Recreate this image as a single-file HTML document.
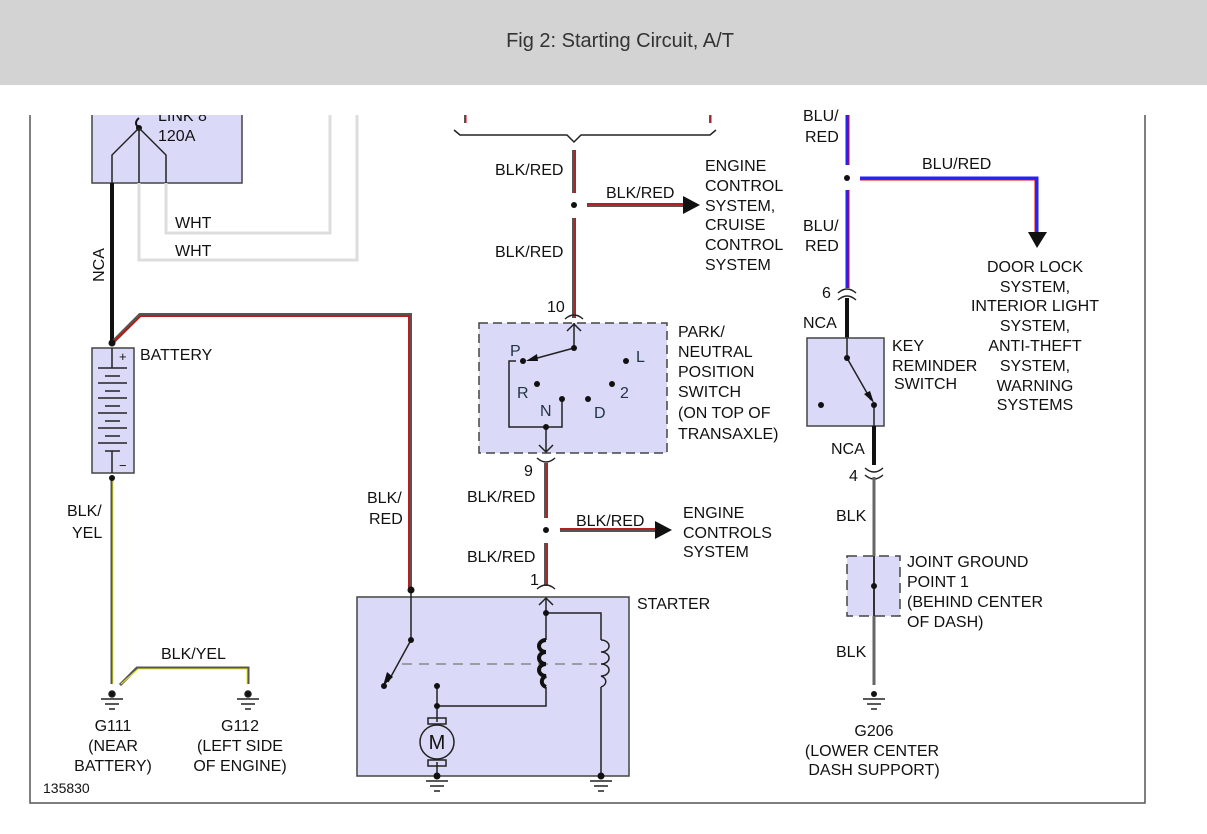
<!DOCTYPE html>
<html><head><style>
html,body{margin:0;padding:0;background:#fff;}
svg{display:block;}
text{font-family:"Liberation Sans",Arial,sans-serif;font-size:16px;fill:#111;}
</style></head><body>
<svg width="1207" height="834" viewBox="0 0 1207 834" xmlns="http://www.w3.org/2000/svg">
<rect x="0" y="0" width="1207" height="85" fill="#d3d3d3"/>
<text x="620" y="47" text-anchor="middle" style="font-size:20px;fill:#333">Fig 2: Starting Circuit, A/T</text>
<!-- frame -->
<path d="M30 115 V803 H1145 V115" fill="none" stroke="#555" stroke-width="1.5"/>
<!-- fuse box -->
<rect x="92" y="108" width="150" height="75" fill="#dadaf8" stroke="#444" stroke-width="1.5"/>
<path d="M139 118 q-6 5 0 10" fill="none" stroke="#111" stroke-width="2"/>
<circle cx="139" cy="128" r="3" fill="#111"/>
<path d="M139 128 L112 155 V183 M139 128 V183 M139 128 L166 155 V183" fill="none" stroke="#222" stroke-width="1.5"/>
<text x="158" y="121">LINK 8</text>
<text x="158" y="141">120A</text>
<rect x="90" y="85" width="160" height="30" fill="#fff"/>
<!-- WHT -->
<path d="M139 183 V260 H357 V115 M166 183 V233 H330 V115" fill="none" stroke="#ddd" stroke-width="3"/>
<text x="175" y="228">WHT</text><text x="175" y="256">WHT</text>
<!-- NCA -->
<path d="M112 183 V343" stroke="#111" stroke-width="4"/>
<text x="104" y="265" transform="rotate(-90 104 265)" text-anchor="middle">NCA</text>
<!-- red wire -->
<path d="M112 343 L140 315 H410 V588" fill="none" stroke="#555" stroke-width="4"/>
<path d="M113 342 L141 316 H409 V588" fill="none" stroke="#e00" stroke-width="1.3"/>
<circle cx="112" cy="343" r="3.5" fill="#111"/>
<text x="367" y="503">BLK/</text><text x="369" y="524">RED</text>
<!-- battery -->
<rect x="92" y="348" width="42" height="125" fill="#dadaf8" stroke="#444" stroke-width="1.5"/>
<path d="M112 348 V368 M98 368 H127 M105 376 H120 M98 383 H127 M105 391 H120 M98 398 H127 M105 406 H120 M98 413 H127 M105 421 H120 M98 428 H127 M105 436 H120 M98 443 H127 M105 451 H120 M112 451 V473" stroke="#222" stroke-width="1.5"/>
<text x="119" y="361" style="font-size:13px">+</text><text x="119" y="470" style="font-size:13px">−</text>
<text x="140" y="360">BATTERY</text>
<!-- BLK/YEL -->
<path d="M112 478 V684 M120 685 L137 668 H248 V684" fill="none" stroke="#555" stroke-width="3"/>
<path d="M113 478 V684 M121 684 L138 669 H247 V684" fill="none" stroke="#ee0" stroke-width="1"/>
<circle cx="112" cy="478" r="3" fill="#111"/>
<text x="67" y="516">BLK/</text><text x="72" y="538">YEL</text>
<text x="161" y="659">BLK/YEL</text>
<g stroke="#222" stroke-width="1.5">
<circle cx="112" cy="694" r="3" fill="#111"/><path d="M101 699 H123 M105 704 H119 M109 709 H115"/>
<circle cx="248" cy="694" r="3" fill="#111"/><path d="M237 699 H259 M241 704 H255 M245 709 H251"/>
</g>
<text x="113" y="731" text-anchor="middle">G111</text><text x="113" y="751" text-anchor="middle">(NEAR</text><text x="113" y="771" text-anchor="middle">BATTERY)</text>
<text x="240" y="731" text-anchor="middle">G112</text><text x="240" y="751" text-anchor="middle">(LEFT SIDE</text><text x="240" y="771" text-anchor="middle">OF ENGINE)</text>
<text x="43" y="793" style="font-size:14px">135830</text>
<!-- middle top -->
<path d="M465 115 V123 M710 115 V123" stroke="#555" stroke-width="2"/>
<path d="M466 115 V123 M711 115 V123" stroke="#e00" stroke-width="1"/>
<path d="M454 130 L460 135 H567 L574 142 L581 135 H710 L716 130" fill="none" stroke="#222" stroke-width="1.5"/>
<path d="M574 150 V193 M574 218 V318" stroke="#555" stroke-width="4"/>
<path d="M575 150 V193 M575 218 V318" stroke="#e00" stroke-width="1"/>
<circle cx="574" cy="205" r="3" fill="#111"/>
<path d="M587 205 H684" stroke="#555" stroke-width="4"/><path d="M587 204 H684" stroke="#e00" stroke-width="1.3"/>
<polygon points="683,196 700,205 683,214" fill="#111"/>
<text x="495" y="175">BLK/RED</text><text x="606" y="198">BLK/RED</text><text x="495" y="257">BLK/RED</text>
<text x="705" y="171">ENGINE</text><text x="705" y="191">CONTROL</text><text x="705" y="211">SYSTEM,</text><text x="705" y="230">CRUISE</text><text x="705" y="250">CONTROL</text><text x="705" y="270">SYSTEM</text>
<!-- PNP -->
<rect x="479" y="323" width="188" height="130" fill="#dadaf8" stroke="#444" stroke-width="1.5" stroke-dasharray="9,5"/>
<path d="M565 319 q9 -8 18 0" fill="none" stroke="#222" stroke-width="1.5"/>
<text x="547" y="312">10</text>
<g stroke="#222" stroke-width="1.5" fill="none">
<path d="M574 323 V348 L530 360"/><path d="M567 331 L574 324 L581 331"/>
<path d="M516 361 H509 V427 H562 V399 M546 427 V452"/><path d="M539 445 L546 452 L553 445"/>
<path d="M537 458 q9 8 18 0"/>
</g>
<polygon points="526,361 537,354 538,361" fill="#111"/>
<g fill="#111"><circle cx="574" cy="348" r="3"/><circle cx="523" cy="361" r="3"/><circle cx="626" cy="361" r="3"/><circle cx="537" cy="384" r="3"/><circle cx="612" cy="384" r="3"/><circle cx="562" cy="399" r="3"/><circle cx="588" cy="399" r="3"/><circle cx="546" cy="427" r="3"/></g>
<text x="510" y="356" style="fill:#234">P</text><text x="636" y="362" style="fill:#234">L</text><text x="517" y="398" style="fill:#234">R</text><text x="620" y="398" style="fill:#234">2</text><text x="540" y="416" style="fill:#234">N</text><text x="594" y="418" style="fill:#234">D</text>
<text x="678" y="337">PARK/</text><text x="678" y="357">NEUTRAL</text><text x="678" y="377">POSITION</text><text x="678" y="397">SWITCH</text><text x="678" y="418">(ON TOP OF</text><text x="678" y="439">TRANSAXLE)</text>
<text x="524" y="476">9</text>
<path d="M546 463 V518 M546 543 V586" stroke="#555" stroke-width="4"/>
<path d="M547 463 V518 M547 543 V586" stroke="#e00" stroke-width="1"/>
<circle cx="546" cy="530" r="3" fill="#111"/>
<path d="M560 530 H656" stroke="#555" stroke-width="4"/><path d="M560 529 H656" stroke="#e00" stroke-width="1.3"/>
<polygon points="655,521 672,530 655,539" fill="#111"/>
<text x="467" y="502">BLK/RED</text><text x="576" y="526">BLK/RED</text><text x="467" y="562">BLK/RED</text>
<text x="683" y="518">ENGINE</text><text x="683" y="538">CONTROLS</text><text x="683" y="557">SYSTEM</text>
<text x="530" y="585">1</text>
<path d="M537 589 q9 -8 18 0" fill="none" stroke="#222" stroke-width="1.5"/>
<!-- starter -->
<rect x="357" y="597" width="272" height="179" fill="#dadaf8" stroke="#444" stroke-width="1.5"/>
<text x="637" y="609">STARTER</text>
<g stroke="#222" stroke-width="1.5" fill="none">
<path d="M411 590 V640 L388 682"/>
<path d="M539 605 L546 598 L553 605 M546 598 V640 M546 613 H601 V640 M546 687 V706 H437 V686 M437 706 V722 M437 762 V776 M601 687 V776"/>
<path d="M601 640 a8 6 0 0 1 0 12 a8 6 0 0 1 0 12 a8 6 0 0 1 0 12 a8 6 0 0 1 0 11"/>
<path d="M402 664 H597" stroke="#888" stroke-dasharray="10,7"/>
<rect x="428" y="718" width="18" height="6"/><rect x="428" y="760" width="18" height="6"/>
<circle cx="437" cy="742" r="17" fill="#dadaf8"/>
<path d="M426 781 H448 M430 786 H444 M434 791 H440 M590 781 H612 M594 786 H608 M598 791 H604"/>
</g>
<path d="M546 640 a7 6 0 0 0 0 12 a7 6 0 0 0 0 12 a7 6 0 0 0 0 12 a7 6 0 0 0 0 11" fill="none" stroke="#111" stroke-width="4"/>
<polygon points="383,686 387,672 393,677" fill="#111"/>
<g fill="#111"><circle cx="411" cy="590" r="3.5"/><circle cx="411" cy="640" r="3"/><circle cx="384" cy="686" r="3"/><circle cx="546" cy="613" r="3"/><circle cx="437" cy="686" r="3"/><circle cx="437" cy="706" r="3"/><circle cx="437" cy="776" r="3.5"/><circle cx="601" cy="776" r="3.5"/></g>
<text x="437" y="749" text-anchor="middle" style="font-size:20px">M</text>
<!-- right -->
<path d="M847 115 V165 M847 190 V288" stroke="#22f" stroke-width="3"/>
<path d="M849 115 V165 M849 190 V288" stroke="#e00" stroke-width="1"/>
<circle cx="847" cy="178" r="3" fill="#111"/>
<path d="M860 178 H1037 V232" fill="none" stroke="#22f" stroke-width="3"/>
<path d="M860 180 H1035 V232" fill="none" stroke="#e00" stroke-width="1"/>
<polygon points="1028,232 1047,232 1037,248" fill="#111"/>
<text x="803" y="121">BLU/</text><text x="805" y="142">RED</text>
<text x="922" y="169">BLU/RED</text>
<text x="803" y="231">BLU/</text><text x="805" y="251">RED</text>
<text x="1035" y="272" text-anchor="middle">DOOR LOCK</text><text x="1035" y="292" text-anchor="middle">SYSTEM,</text><text x="1035" y="311" text-anchor="middle">INTERIOR LIGHT</text><text x="1035" y="331" text-anchor="middle">SYSTEM,</text><text x="1035" y="351" text-anchor="middle">ANTI-THEFT</text><text x="1035" y="371" text-anchor="middle">SYSTEM,</text><text x="1035" y="391" text-anchor="middle">WARNING</text><text x="1035" y="410" text-anchor="middle">SYSTEMS</text>
<g stroke="#222" stroke-width="1.5" fill="none"><path d="M838 293 q9 -8 18 0 M838 300 q9 -8 18 0 M865 468 q9 8 18 0 M865 475 q9 8 18 0"/></g>
<text x="822" y="298">6</text><text x="803" y="328">NCA</text>
<path d="M847 298 V338" stroke="#111" stroke-width="4"/>
<rect x="807" y="338" width="77" height="88" fill="#dadaf8" stroke="#444" stroke-width="1.5"/>
<g stroke="#222" stroke-width="1.5" fill="none"><path d="M847 338 V358 L871 400 M874 404 V426"/></g>
<polygon points="874,403 864,394 870,391" fill="#111"/>
<g fill="#111"><circle cx="847" cy="358" r="3"/><circle cx="874" cy="405" r="3"/><circle cx="821" cy="405" r="3"/></g>
<text x="892" y="351">KEY</text><text x="892" y="371">REMINDER</text><text x="894" y="389">SWITCH</text>
<path d="M874 426 V465" stroke="#111" stroke-width="4"/>
<text x="831" y="454">NCA</text><text x="849" y="481">4</text>
<path d="M874 477 V685" stroke="#666" stroke-width="3"/>
<rect x="847" y="556" width="53" height="60" fill="#dadaf8" stroke="#444" stroke-width="1.5" stroke-dasharray="10,6"/>
<path d="M874 556 V616" stroke="#333" stroke-width="2"/>
<circle cx="874" cy="586" r="3" fill="#111"/>
<text x="836" y="521">BLK</text><text x="836" y="657">BLK</text>
<text x="907" y="567">JOINT GROUND</text><text x="907" y="587">POINT 1</text><text x="907" y="607">(BEHIND CENTER</text><text x="907" y="627">OF DASH)</text>
<circle cx="874" cy="694" r="3" fill="#111"/>
<path d="M863 699 H885 M867 704 H881 M871 709 H877" stroke="#222" stroke-width="1.5"/>
<text x="874" y="736" text-anchor="middle">G206</text><text x="872" y="756" text-anchor="middle">(LOWER CENTER</text><text x="874" y="775" text-anchor="middle">DASH SUPPORT)</text>
</svg>
</body></html>
